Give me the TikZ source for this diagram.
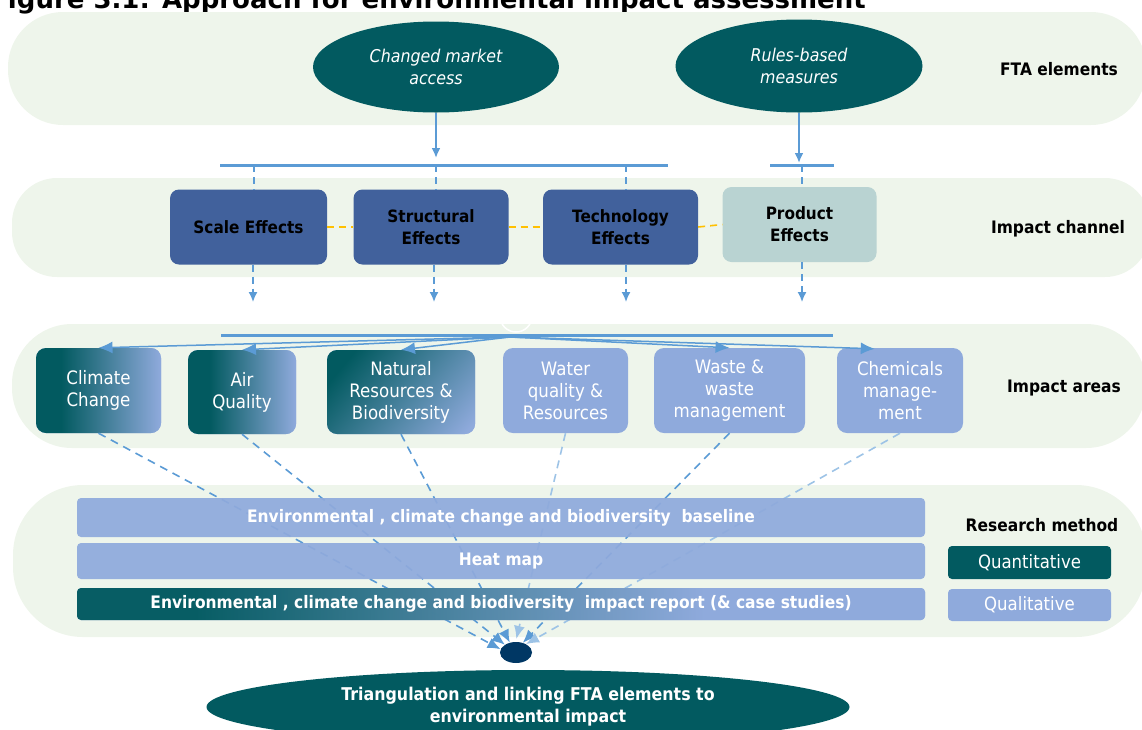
\documentclass[tikz,border=0pt]{standalone}
\usepackage{fontspec}
\setmainfont{DejaVu Sans}[FakeStretch=0.9]
\newfontfamily\titlefont{DejaVu Sans}
\usetikzlibrary{shapes.geometric,arrows.meta,calc}

\definecolor{bandgreen}{HTML}{EEF5EB}
\definecolor{dteal}{HTML}{025A60}
\definecolor{chanblue}{HTML}{41619C}
\definecolor{prodgray}{HTML}{B9D3D2}
\definecolor{lblue}{HTML}{8FAADC}
\definecolor{arrowblue}{HTML}{5B9BD5}
\definecolor{paleblue}{HTML}{9DC3E6}
\definecolor{linkyellow}{HTML}{FFC000}
\definecolor{dotnavy}{HTML}{003764}

% teal-to-blue fades used by the mixed boxes
\pgfdeclarehorizontalshading{tealfade}{100bp}{color(0bp)=(dteal); color(35bp)=(dteal); color(75bp)=(lblue); color(100bp)=(lblue)}
\pgfdeclarehorizontalshading{natfade}{100bp}{color(0bp)=(dteal); color(24bp)=(dteal); color(82bp)=(lblue); color(100bp)=(lblue)}
\pgfdeclarehorizontalshading{reportfade}{100bp}{color(0bp)=(dteal); color(32bp)=(dteal); color(62bp)=(lblue); color(100bp)=(lblue)}

\newcommand{\fsz}[2]{\fontsize{#1}{#2}\selectfont}

\begin{document}
\begin{tikzpicture}[x=1pt,y=-1pt,
  band/.style={fill=bandgreen},
  rowlabel/.style={font=\bfseries\fsz{17.2}{21}, text=black, inner sep=0},
  fta/.style={ellipse, fill=dteal, inner sep=0, text=white, align=center,
    font=\itshape\fsz{17.6}{22.5}},
  chan/.style={rounded corners=9, fill=chanblue, inner sep=0, minimum height=75,
    align=center, text=black, font=\bfseries\fsz{17}{22}},
  area/.style={rounded corners=10, fill=lblue, inner sep=0, minimum height=85,
    align=center, text=white, font=\fsz{18.5}{22}},
  rbar/.style={rounded corners=4, fill=lblue, fill opacity=0.93, text opacity=1,
    inner sep=0, minimum width=848, text=white, font=\bfseries\fsz{17.2}{21}},
  method/.style={rounded corners=4, inner sep=0, minimum width=163, minimum height=33,
    text=white, font=\fsz{18.4}{21}},
  hbar/.style={draw=arrowblue, line width=3},
  feed/.style={draw=arrowblue, line width=2, -{Latex[length=10,width=9]}},
  drop/.style={draw=arrowblue, line width=1.6, dash pattern=on 7 off 5},
  dropar/.style={drop, -{Latex[length=10,width=9]}},
  link/.style={draw=linkyellow, line width=1.6, dash pattern=on 7 off 5},
  fan/.style={draw=arrowblue, line width=1.5, -{Latex[length=14,width=12]}},
  conv/.style={draw=arrowblue, line width=1.6, dash pattern=on 8 off 6,
    -{Latex[length=13,width=11]}},
  convpale/.style={conv, draw=paleblue},
]
\useasboundingbox (0,0) rectangle (1142,729);

% caption line at the top edge
\node[anchor=base east, inner sep=0, font=\titlefont\bfseries\fsz{26}{30}] (title)
  at (866,8) {Figure 3.1: Approach for environmental impact assessment};

% background bands
\fill[band, rounded corners=55] (8,12) rectangle (1146,125);
\fill[band, rounded corners=45] (12,178) rectangle (1150,277);
\fill[band, rounded corners=60] (12,324) rectangle (1146,448);
\fill[band, rounded corners=70] (13,485) rectangle (1146,637);
\draw[white, line width=1.5] (516,316) circle (16);

% row labels
\node[rowlabel] (lblfta)  at (1059,69)  {FTA elements};
\node[rowlabel] (lblchan) at (1058,229) {Impact channel};
\node[rowlabel] (lblarea) at (1064,388) {Impact areas};
\node[rowlabel] (lblmeth) at (1042,525) {Research method};

% FTA elements
\node[fta, minimum width=246, minimum height=91] (cma) at (436,67) {Changed market\\access};
\node[fta, minimum width=247, minimum height=93] (rbm) at (799,66) {Rules-based\\measures};

\coordinate (barL) at (220,165);
\coordinate (barR) at (668,165);
\coordinate (pbarL) at (770,165);
\coordinate (pbarR) at (834,165);
\draw[hbar] (barL) -- (barR);
\draw[hbar] (pbarL) -- (pbarR);
\coordinate (cmaIn) at (436,158);
\coordinate (rbmIn) at (799,163);
\draw[feed] (cma) -- (cmaIn);
\draw[feed] (rbm) -- (rbmIn);

% impact channels
\node[chan, minimum width=157] (scale)  at (248.5,227) {Scale Effects};
\node[chan, minimum width=155] (struct) at (431,227)   {Structural\\Effects};
\node[chan, minimum width=155] (tech)   at (620.5,227) {Technology\\Effects};
\node[chan, minimum width=154, fill=prodgray] (prod) at (799.5,224.5) {Product\\Effects};

\draw[link] (scale.east) -- (struct.west);
\draw[link] (struct.east) -- (tech.west);
\draw[link] (tech.east) -- (prod.west);

\coordinate (t1) at (254,165);
\coordinate (t2) at (436,165);
\coordinate (t3) at (626,165);
\coordinate (t4) at (802,165);
\draw[drop] (t1) -- (t1 |- scale.north);
\draw[drop] (t2) -- (t2 |- struct.north);
\draw[drop] (t3) -- (t3 |- tech.north);
\draw[drop] (t4) -- (t4 |- prod.north);

\coordinate (o1) at (253,302);
\coordinate (o2) at (434,302);
\coordinate (o3) at (626,302);
\coordinate (o4) at (802,302);
\draw[dropar] (o1 |- scale.south) -- (o1);
\draw[dropar] (o2 |- struct.south) -- (o2);
\draw[dropar] (o3 |- tech.south) -- (o3);
\draw[dropar] (o4 |- prod.south) -- (o4);

% impact areas
\node[area, minimum width=125, shading=tealfade] (cc)    at (98.5,390.5) {Climate\\Change};
\node[area, minimum width=108, minimum height=84, shading=tealfade] (air) at (242,392) {Air\\Quality};
\node[area, minimum width=148, minimum height=84, shading=natfade, shading angle=-40] (nat) at (401,392) {Natural\\Resources \&\\Biodiversity};
\node[area, minimum width=125] (water) at (565.5,390.5) {Water\\quality \&\\Resources};
\node[area, minimum width=151] (waste) at (729.5,390.5) {Waste \&\\waste\\management};
\node[area, minimum width=126] (chem)  at (900,390.5)   {Chemicals\\manage-\\ment};

\coordinate (hubL) at (221,335);
\coordinate (hubR) at (833,335);
\draw[hbar] (hubL) -- (hubR);
\coordinate (hub) at (510,337);
\draw[fan] (hub) -- (cc.north);
\draw[fan] (hub) -- (air.north);
\draw[fan] (hub) -- (nat.north);
\draw[fan] (hub) -- (waste.north);
\draw[fan] (hub) -- ($(chem.north west)+(38,1)$);

% links from the impact areas down to the triangulation point
\node[ellipse, fill=dotnavy, minimum width=32, minimum height=21, inner sep=0] (dot) at (516,652.5) {};
\draw[conv]     (cc.south)    -- (dot.168);
\draw[conv]     (air.south)   -- (dot.145);
\draw[conv]     (nat.south)   -- (dot.122);
\draw[convpale, shorten >=3] (water.south) -- (dot.92);
\draw[conv]     (waste.south) -- (dot.55);
\draw[convpale] (chem.south)  -- (dot.40);

% research method bars
\node[rbar, minimum height=39] (base) at (501,517.5)
  {Environmental , climate change and biodiversity \ baseline};
\node[rbar, minimum height=36] (heat) at (501,561) {Heat map};
\node[rbar, minimum height=32, shading=reportfade, fill opacity=0.96] (report) at (501,604)
  {Environmental , climate change and biodiversity \ impact report (\& case studies)};

\node[method, fill=dteal] (quant) at (1029.5,562.5) {Quantitative};
\node[method, fill=lblue, minimum height=32] (qual) at (1029.5,605) {Qualitative};

% outcome
\node[ellipse, fill=dteal, minimum width=643, minimum height=74, inner sep=0,
  text=white, align=center, font=\bfseries\fsz{17.6}{22}] (tri) at (528,707)
  {Triangulation and linking FTA elements to\\environmental impact};
\end{tikzpicture}
\end{document}
